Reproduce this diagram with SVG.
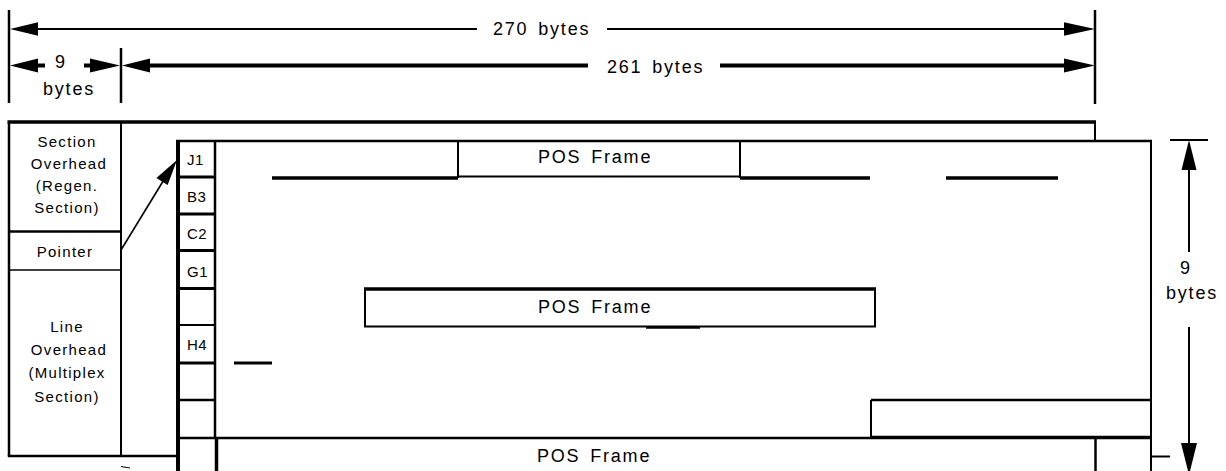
<svg xmlns="http://www.w3.org/2000/svg" width="1226" height="471" viewBox="0 0 1226 471">
<style>
  .ln{stroke:#000;fill:none;stroke-linecap:butt}
  .ah{fill:#000;stroke:none}
  .t{font-family:"Liberation Sans",Arial,sans-serif;fill:#000}
  .big{font-size:18px;letter-spacing:1.8px;word-spacing:3px}
  .sm{font-size:15px;letter-spacing:1.3px}
  .cell{font-size:15px;letter-spacing:0.5px}
</style>
<rect width="1226" height="471" fill="#fff"/>

<g id="dimensions">
  <line class="ln" x1="9" y1="10" x2="9" y2="103" stroke-width="2.5"/>
  <line class="ln" x1="1095" y1="10" x2="1095" y2="104" stroke-width="2.5"/>
  <line class="ln" x1="121" y1="48" x2="121" y2="103" stroke-width="2.5"/>
  <line class="ln" x1="38" y1="29" x2="477" y2="29" stroke-width="2.2"/>
  <line class="ln" x1="607" y1="29" x2="1064" y2="29" stroke-width="2.2"/>
  <polygon class="ah" points="10,29 38,22.3 38,35.7"/>
  <polygon class="ah" points="1095,29 1064,22.3 1064,35.7"/>
  <text class="t big" x="493" y="35">270 bytes</text>
  <line class="ln" x1="150" y1="65.5" x2="588" y2="65.5" stroke-width="4"/>
  <line class="ln" x1="720" y1="65.5" x2="1064" y2="65.5" stroke-width="4"/>
  <polygon class="ah" points="122,65.5 150,58.5 150,72.5"/>
  <polygon class="ah" points="1095,65.5 1064,58.5 1064,72.5"/>
  <text class="t big" x="607" y="73">261 bytes</text>
  <line class="ln" x1="38" y1="65.5" x2="45" y2="65.5" stroke-width="4"/>
  <line class="ln" x1="84" y1="65.5" x2="92" y2="65.5" stroke-width="4"/>
  <polygon class="ah" points="10,65.5 38,58.5 38,72.5"/>
  <polygon class="ah" points="120,65.5 90,58.5 90,72.5"/>
  <text class="t big" x="55" y="68">9</text>
  <text class="t big" x="43" y="95">bytes</text>
  <line class="ln" x1="1170" y1="140" x2="1208" y2="140" stroke-width="2"/>
  <polygon class="ah" points="1189,140 1181.5,170 1196.5,170"/>
  <line class="ln" x1="1189" y1="170" x2="1189" y2="252" stroke-width="2"/>
  <line class="ln" x1="1189" y1="327" x2="1189" y2="443" stroke-width="2"/>
  <polygon class="ah" points="1189,475 1181,443 1197,443"/>
  <text class="t big" x="1180" y="274">9</text>
  <text class="t big" x="1166" y="299">bytes</text>
</g>

<g id="outer-frame">
  <line class="ln" x1="7.5" y1="122" x2="1096" y2="122" stroke-width="3.5"/>
  <line class="ln" x1="1095" y1="122" x2="1095" y2="141" stroke-width="2"/>
  <line class="ln" x1="1095.5" y1="438" x2="1095.5" y2="471" stroke-width="2.5"/>
  <line class="ln" x1="1151" y1="456.5" x2="1170" y2="456.5" stroke-width="2"/>
</g>

<g id="section-overhead">
  <line class="ln" x1="9" y1="122" x2="9" y2="456" stroke-width="2.5"/>
  <line class="ln" x1="121" y1="122" x2="121" y2="456" stroke-width="2"/>
  <line class="ln" x1="9" y1="231.5" x2="121" y2="231.5" stroke-width="2.5"/>
  <text class="t sm" text-anchor="middle" x="67" y="147">Section</text>
  <text class="t sm" text-anchor="middle" x="69" y="169">Overhead</text>
  <text class="t sm" text-anchor="middle" x="67" y="191">(Regen.</text>
  <text class="t sm" text-anchor="middle" x="67" y="213">Section)</text>
</g>
<g id="pointer">
  <line class="ln" x1="9" y1="270" x2="121" y2="270" stroke="#555" stroke-width="1.6"/>
  <text class="t sm" text-anchor="middle" x="65" y="257">Pointer</text>
</g>
<g id="line-overhead">
  <line class="ln" x1="7.8" y1="456" x2="178" y2="456" stroke-width="2.5"/>
  <text class="t sm" text-anchor="middle" x="67" y="332">Line</text>
  <text class="t sm" text-anchor="middle" x="69" y="355">Overhead</text>
  <text class="t sm" text-anchor="middle" x="67" y="378">(Multiplex</text>
  <text class="t sm" text-anchor="middle" x="67" y="402">Section)</text>
</g>

<g id="payload-frame">
  <line class="ln" x1="176" y1="141" x2="1152" y2="141" stroke-width="2.5"/>
  <line class="ln" x1="178" y1="140" x2="178" y2="471" stroke-width="4"/>
  <line class="ln" x1="1151" y1="140" x2="1151" y2="471" stroke-width="2"/>
  <line class="ln" x1="215" y1="141" x2="215" y2="438" stroke-width="2.5"/>
  <line class="ln" x1="216.5" y1="438" x2="216.5" y2="471" stroke-width="3.5"/>
</g>

<g id="poh-column">
  <line class="ln" x1="178" y1="177" x2="215" y2="177" stroke-width="3"/>
  <line class="ln" x1="178" y1="214" x2="215" y2="214" stroke-width="3"/>
  <line class="ln" x1="178" y1="250.5" x2="215" y2="250.5" stroke-width="3"/>
  <line class="ln" x1="178" y1="288.5" x2="215" y2="288.5" stroke-width="3"/>
  <line class="ln" x1="178" y1="325" x2="215" y2="325" stroke-width="2"/>
  <line class="ln" x1="178" y1="363" x2="215" y2="363" stroke-width="3"/>
  <line class="ln" x1="178" y1="400" x2="215" y2="400" stroke-width="2.5"/>
  <text class="t cell" x="187" y="165">J1</text>
  <text class="t cell" x="187" y="202">B3</text>
  <text class="t cell" x="187" y="239">C2</text>
  <text class="t cell" x="187" y="277">G1</text>
  <text class="t cell" x="187" y="350">H4</text>
</g>

<g id="pos-frame-1">
  <line class="ln" x1="272" y1="178" x2="458" y2="178" stroke-width="3.5"/>
  <line class="ln" x1="458" y1="141" x2="458" y2="178" stroke-width="2"/>
  <line class="ln" x1="458" y1="176.5" x2="740" y2="176.5" stroke="#333" stroke-width="2"/>
  <line class="ln" x1="740" y1="141" x2="740" y2="178" stroke-width="2"/>
  <line class="ln" x1="740" y1="178" x2="870" y2="178" stroke-width="3.5"/>
  <line class="ln" x1="946" y1="178" x2="1058" y2="178" stroke-width="3.5"/>
  <text class="t big" x="538" y="163">POS Frame</text>
</g>

<g id="pos-frame-2">
  <line class="ln" x1="364" y1="289" x2="876" y2="289" stroke-width="3.5"/>
  <line class="ln" x1="365" y1="289" x2="365" y2="327" stroke-width="2"/>
  <line class="ln" x1="875" y1="289" x2="875" y2="327" stroke-width="2"/>
  <line class="ln" x1="364" y1="326.5" x2="876" y2="326.5" stroke="#333" stroke-width="2"/>
  <line class="ln" x1="646" y1="327.5" x2="700" y2="327.5" stroke-width="2.5"/>
  <line class="ln" x1="234" y1="363" x2="272" y2="363" stroke-width="3"/>
  <text class="t big" x="538" y="313">POS Frame</text>
</g>

<g id="pos-frame-3">
  <line class="ln" x1="871" y1="400" x2="1151" y2="400" stroke-width="2.5"/>
  <line class="ln" x1="871" y1="400" x2="871" y2="438" stroke-width="2"/>
  <line class="ln" x1="216" y1="438" x2="871" y2="438" stroke-width="2.5"/>
  <line class="ln" x1="871" y1="437.5" x2="1151" y2="437.5" stroke-width="3.5"/>
  <line class="ln" x1="178" y1="438" x2="216" y2="438" stroke-width="2.5"/>
  <text class="t big" x="537" y="462">POS Frame</text>
</g>

<g id="connectors">
  <line class="ln" x1="121" y1="250" x2="165" y2="178" stroke-width="1.6"/>
  <polygon class="ah" points="177,160 156.4,178 167.6,185"/>
  <line class="ln" x1="121" y1="466.5" x2="130" y2="468" stroke-width="1"/>
</g>
</svg>
